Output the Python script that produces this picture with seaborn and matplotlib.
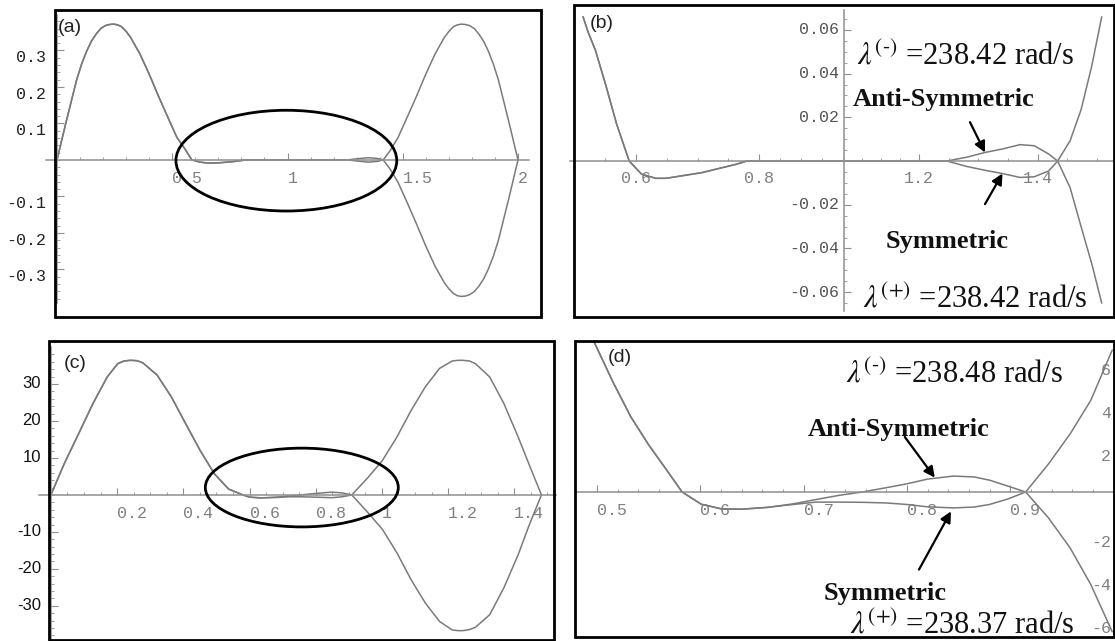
import numpy as np
import pandas as pd
import matplotlib
matplotlib.use("Agg")
import matplotlib.pyplot as plt
import seaborn as sns
from matplotlib.patches import Rectangle, Ellipse
from matplotlib.ticker import FixedLocator, FixedFormatter

# ---------------- data ----------------
# panel (a)
XA = [0, 0.04, 0.085, 0.107, 0.13, 0.15, 0.17, 0.19, 0.21, 0.228,
      0.246, 0.263, 0.28, 0.30, 0.32, 0.36, 0.40, 0.44, 0.48, 0.52,
      0.555, 0.585, 0.62, 0.66, 0.70, 0.76, 0.82, 1.0, 1.26, 1.30,
      1.35, 1.39, 1.415, 1.445, 1.48, 1.52, 1.56, 1.60, 1.64, 1.68,
      1.70, 1.72, 1.737, 1.754, 1.772, 1.79, 1.81, 1.83, 1.85, 1.87,
      1.893, 1.915, 1.96, 2.0]
YA_SYM = [0, 0.105, 0.219, 0.263, 0.30, 0.326, 0.345, 0.36, 0.368, 0.371,
          0.372, 0.370, 0.365, 0.352, 0.335, 0.29, 0.235, 0.175, 0.118, 0.062,
          0.03, 0.0, -0.006, -0.009, -0.008, -0.005, 0.0, 0.0, 0.0, -0.003,
          -0.006, -0.004, 0.0, 0.025, 0.062, 0.118, 0.175, 0.235, 0.29, 0.335,
          0.352, 0.365, 0.370, 0.372, 0.371, 0.368, 0.36, 0.345, 0.326, 0.30,
          0.263, 0.219, 0.105, 0.0]
YA_ANTI = [0, 0.105, 0.219, 0.263, 0.30, 0.326, 0.345, 0.36, 0.368, 0.371,
           0.372, 0.370, 0.365, 0.352, 0.335, 0.29, 0.235, 0.175, 0.118, 0.062,
           0.03, 0.0, -0.006, -0.009, -0.008, -0.005, 0.0, 0.0, 0.0, 0.003,
           0.006, 0.004, 0.0, -0.025, -0.062, -0.118, -0.176, -0.236, -0.291, -0.336,
           -0.353, -0.366, -0.372, -0.374, -0.373, -0.369, -0.361, -0.346, -0.327, -0.301,
           -0.264, -0.22, -0.106, 0.0]

# panel (b)
XB = [0.514, 0.522, 0.534, 0.551, 0.5685, 0.589, 0.609, 0.632, 0.649, 0.707,
      0.764, 0.78, 1.0, 1.247, 1.281, 1.311, 1.3405, 1.3705, 1.3945, 1.419,
      1.434, 1.455, 1.4735, 1.4915, 1.5083]
YB_SYM = [0.066, 0.0591, 0.0507, 0.0346, 0.0169, 0.0, -0.006, -0.0079, -0.0079, -0.0053,
          -0.0014, 0.0, 0.0, 0.0, -0.0025, -0.0042, -0.0057, -0.0075, -0.0072, -0.0045,
          0.0, 0.0093, 0.0235, 0.0435, 0.066]
YB_ANTI = [0.066, 0.0591, 0.0507, 0.0346, 0.0169, 0.0, -0.006, -0.0079, -0.0079, -0.0053,
           -0.0014, 0.0, 0.0, 0.0, 0.0018, 0.0039, 0.0055, 0.0075, 0.007, 0.0032,
           0.0, -0.0122, -0.030, -0.047, -0.065]

# panel (c)
XC = [0, 0.04, 0.0835, 0.127, 0.17, 0.202, 0.22, 0.24, 0.26, 0.278,
      0.321, 0.364, 0.4075, 0.451, 0.494, 0.537, 0.58, 0.60, 0.635, 0.68,
      0.72, 0.755, 0.80, 0.848, 0.88, 0.909, 0.958, 1.0015, 1.045, 1.088,
      1.131, 1.174, 1.212, 1.23, 1.245, 1.265, 1.2825, 1.3257, 1.3686, 1.412,
      1.444, 1.482]
YC_SYM = [0, 8.4, 16.5, 24.7, 31.9, 35.5, 36.2, 36.4, 36.3, 35.7,
          32.4, 26.5, 19.2, 12.0, 5.7, 1.57, 0.0, -0.6, -0.8, -0.7,
          -0.5, -0.5, -0.6, -0.75, -0.5, 0.0, 4.7, 9.3, 15.6, 22.8,
          29.2, 34.2, 36.2, 36.4, 36.4, 36.2, 35.5, 31.9, 24.7, 15.6,
          8.4, 0.0]
YC_ANTI = [0, 8.4, 16.5, 24.7, 31.9, 35.5, 36.2, 36.4, 36.3, 35.7,
           32.4, 26.5, 19.2, 12.0, 5.7, 1.57, 0.0, -0.6, -0.8, -0.6,
           -0.3, 0.0, 0.4, 0.75, 0.55, 0.0, -4.8, -9.3, -15.6, -22.9,
           -29.2, -34.2, -36.5, -36.7, -36.7, -36.4, -35.8, -32.4, -25.1, -16.1,
           -8.4, 0.0]

# panel (d)
XD = [0.496, 0.5156, 0.5327, 0.5499, 0.567, 0.5824, 0.601, 0.62, 0.64, 0.665,
      0.69, 0.712, 0.735, 0.757, 0.78, 0.80, 0.82, 0.845, 0.865, 0.88,
      0.898, 0.915, 0.937, 0.958, 0.978, 0.9988]
YD_SYM = [7.1, 5.1, 3.5, 2.2, 1.05, 0.0, -0.57, -0.78, -0.8, -0.71,
          -0.58, -0.47, -0.47, -0.48, -0.51, -0.58, -0.69, -0.74, -0.7, -0.58,
          -0.32, 0.0, 1.3, 2.7, 4.26, 6.6]
YD_ANTI = [7.1, 5.1, 3.5, 2.2, 1.05, 0.0, -0.57, -0.78, -0.8, -0.72,
           -0.55, -0.35, -0.15, 0.0, 0.2, 0.38, 0.6, 0.74, 0.7, 0.55,
           0.27, 0.0, -1.2, -2.6, -4.3, -6.5]

# highlighted regions (cx, cy, width, height)
ELLIPSE_A = [0.995, -0.002, 0.958, 0.276]
ELLIPSE_C = [0.758, 2.0, 0.583, 21.3]

# tick values / labels
A_XT = [0.5, 1, 1.5, 2];            A_XL = ["0.5", "1", "1.5", "2"]
A_YT = [-0.3, -0.2, -0.1, 0.1, 0.2, 0.3]; A_YL = ["-0.3", "-0.2", "-0.1", "0.1", "0.2", "0.3"]
B_XT = [0.6, 0.8, 1.2, 1.4];        B_XL = ["0.6", "0.8", "1.2", "1.4"]
B_YT = [-0.06, -0.04, -0.02, 0.02, 0.04, 0.06]; B_YL = ["-0.06", "-0.04", "-0.02", "0.02", "0.04", "0.06"]
C_XT = [0.2, 0.4, 0.6, 0.8, 1.0, 1.2, 1.4]; C_XL = ["0.2", "0.4", "0.6", "0.8", "1", "1.2", "1.4"]
C_YT = [-30, -20, -10, 10, 20, 30];  C_YL = ["-30", "-20", "-10", "10", "20", "30"]
D_XT = [0.5, 0.6, 0.7, 0.8, 0.9];    D_XL = ["0.5", "0.6", "0.7", "0.8", "0.9"]
D_YT = [-6, -4, -2, 2, 4, 6];        D_YL = ["-6", "-4", "-2", "2", "4", "6"]

LAM_B = ["238.42", "238.42"]   # lambda(-), lambda(+)
LAM_D = ["238.48", "238.37"]

# x-axis warp of panel (b) (its axis is compressed in the middle)
B_KNOT_X = [0.0, 0.4927, 0.6, 0.8, 1.0, 1.2, 1.4, 1.529, 2.0]
B_KNOT_P = [267.0, 570.0, 636.0, 759.0, 843.6, 919.0, 1037.5, 1114.0, 1393.0]

# ---------------- styling ----------------
sns.set_theme(style="white")
plt.rcParams["font.family"] = ["DejaVu Sans"]
plt.rcParams["mathtext.fontset"] = "stix"
plt.rcParams["axes.unicode_minus"] = False

CURVE = "#7a7a7a"
AXC = "#8f8f8f"
MONO = "Liberation Mono"
SERIF = "Liberation Serif"
SANS = "Liberation Sans"

W, H = 1115, 641
fig = plt.figure(figsize=(W / 100, H / 100), dpi=100)
fig.patch.set_facecolor("white")


def add_ax(l, t, r, b):
    return fig.add_axes([l / W, 1 - b / H, (r - l) / W, (b - t) / H])


def frame(l, t, r, b):
    fig.patches.append(Rectangle((l / W, 1 - b / H), (r - l) / W, (b - t) / H,
                                 transform=fig.transFigure, fill=False,
                                 lw=2.0, ec="black", zorder=5))


def curves(ax, x, ys, ya):
    df = pd.DataFrame({"x": list(x) * 2, "y": list(ys) + list(ya),
                       "mode": ["sym"] * len(x) + ["anti"] * len(x)})
    sns.lineplot(data=df, x="x", y="y", units="mode", estimator=None, sort=False,
                 color=CURVE, lw=1.1, ax=ax, legend=False)


def axes_style(ax, xlim, ylim, yaxis_pos, xt, xl, yt, yl, xminor, yminor,
               xpad=7, ypad=7, ylab_family=MONO, xha="left", yva="center",
               xcolor="#808080", ycolor="#333333", fs=12):
    ax.set_xlim(xlim)
    ax.set_ylim(ylim)
    ax.set_facecolor("none")
    ax.grid(False)
    ax.set_xlabel("")
    ax.set_ylabel("")
    ax.spines["top"].set_visible(False)
    ax.spines["right"].set_visible(False)
    ax.spines["bottom"].set_position(("data", 0))
    ax.spines["left"].set_position(yaxis_pos)
    for s in ("bottom", "left"):
        ax.spines[s].set_color(AXC)
        ax.spines[s].set_linewidth(1.1)
    ax.xaxis.set_major_locator(FixedLocator(xt))
    ax.xaxis.set_major_formatter(FixedFormatter(xl))
    ax.yaxis.set_major_locator(FixedLocator(yt))
    ax.yaxis.set_major_formatter(FixedFormatter(yl))
    ax.xaxis.set_minor_locator(FixedLocator(xminor))
    ax.yaxis.set_minor_locator(FixedLocator(yminor))
    ax.tick_params(which="both", direction="in", color=AXC, bottom=True, left=True,
                   top=False, right=False)
    ax.tick_params(which="major", length=5, width=0.8)
    ax.tick_params(which="minor", length=2.5, width=0.6)
    ax.tick_params(axis="x", pad=xpad, labelsize=fs, labelcolor=xcolor)
    ax.tick_params(axis="y", pad=ypad, labelsize=fs, labelcolor=ycolor)
    for lb in ax.get_xticklabels():
        lb.set_fontfamily(MONO)
        lb.set_ha(xha)
    for lb in ax.get_yticklabels():
        lb.set_fontfamily(ylab_family)
        lb.set_va(yva)


def arrow(ax, head, tail):
    ax.annotate("", xy=head, xytext=tail,
                arrowprops=dict(arrowstyle="-|>", color="black", lw=1.6,
                                mutation_scale=16, shrinkA=0, shrinkB=0))


LAMM = r"$\lambda^{(\text{-})}$"
LAMP = r"$\lambda^{(+)}$"

# ---------------- panel (a) ----------------
axA = add_ax(46, 15, 529, 303)
curves(axA, XA, YA_SYM, YA_ANTI)
axA.add_patch(Ellipse((ELLIPSE_A[0], ELLIPSE_A[1]), ELLIPSE_A[2], ELLIPSE_A[3],
                      fill=False, ec="black", lw=2.0, zorder=4))
axes_style(axA, (-0.0477, 2.0477), (-0.392, 0.397), ("data", 0),
           A_XT, A_XL, A_YT, A_YL,
           np.round(np.arange(0.1, 2.05, 0.1), 3), np.round(np.arange(-0.38, 0.39, 0.02), 3),
           xpad=8, ypad=8, yva="top", ycolor="#222222")
frame(55, 10, 541, 317)
fig.text(58 / W, 1 - 27 / H, "(a)", fontsize=14, family=SANS, va="center", ha="left", color="#222222")

# ---------------- panel (b) ----------------
axB = add_ax(570, 10, 1114, 311)
curves(axB, XB, YB_SYM, YB_ANTI)


def _fwd(x):
    return np.interp(x, B_KNOT_X, B_KNOT_P)


def _inv(p):
    return np.interp(p, B_KNOT_P, B_KNOT_X)


axB.set_xscale("function", functions=(_fwd, _inv))
axes_style(axB, (0.4927, 1.529), (-0.0686, 0.0691), ("data", 1.0),
           B_XT, B_XL, B_YT, B_YL,
           np.round(np.arange(0.5, 1.55, 0.05), 3), np.round(np.arange(-0.065, 0.066, 0.005), 4),
           xpad=7, ypad=3, xha="center", xcolor="#808080", ycolor="#555555")
axB.text(1.0355, 0.0476, LAMM + " =" + LAM_B[0] + " rad/s", fontsize=22, family=SERIF,
         ha="left", va="center", color="#111111")
axB.text(1.0249, 0.0281, "Anti-Symmetric", fontsize=19, family=SERIF, weight="bold",
         ha="left", va="center", color="#111111")
arrow(axB, (1.3114, 0.0039), (1.286, 0.0178))
arrow(axB, (1.3409, -0.0057), (1.3114, -0.0197))
axB.text(1.1125, -0.0366, "Symmetric", fontsize=19, family=SERIF, weight="bold",
         ha="left", va="center", color="#111111")
axB.text(1.0512, -0.0632, LAMP + " =" + LAM_B[1] + " rad/s", fontsize=22, family=SERIF,
         ha="left", va="center", color="#111111")
frame(574, 5, 1114, 317)
fig.text(590 / W, 1 - 23 / H, "(b)", fontsize=14, family=SANS, va="center", ha="left", color="#222222")

# ---------------- panel (c) ----------------
axC = add_ax(39, 347, 556, 641)
curves(axC, XC, YC_SYM, YC_ANTI)
axC.add_patch(Ellipse((ELLIPSE_C[0], ELLIPSE_C[1]), ELLIPSE_C[2], ELLIPSE_C[3],
                      fill=False, ec="black", lw=2.0, zorder=4))
axes_style(axC, (-0.036, 1.526), (-39.5, 40.0), ("data", 0),
           C_XT, C_XL, C_YT, C_YL,
           np.round(np.arange(0.05, 1.55, 0.05), 3), np.arange(-38, 40, 2),
           xpad=8, ypad=7, ylab_family=SANS, ycolor="#111111")
frame(49, 341, 554, 640)
fig.text(64 / W, 1 - 363 / H, "(c)", fontsize=14, family=SANS, va="center", ha="left", color="#222222")

# ---------------- panel (d) ----------------
axD = add_ax(575, 341, 1114, 637)
curves(axD, XD, YD_SYM, YD_ANTI)
axes_style(axD, (0.4787, 1.0005), (-6.744, 7.023), ("axes", 1.0),
           D_XT, D_XL, D_YT, D_YL,
           np.round(np.arange(0.48, 1.0, 0.02), 3), np.arange(-6.5, 7.0, 0.5),
           xpad=8, ypad=2, yva="top", xcolor="#808080", ycolor="#808080")
axD.text(0.741, 5.44, LAMM + " =" + LAM_D[0] + " rad/s", fontsize=22, family=SERIF,
         ha="left", va="center", color="#111111")
axD.text(0.7043, 2.93, "Anti-Symmetric", fontsize=19, family=SERIF, weight="bold",
         ha="left", va="center", color="#111111")
arrow(axD, (0.827, 0.67), (0.798, 2.56))
arrow(axD, (0.8427, -0.9), (0.8117, -3.61))
axD.text(0.7197, -4.70, "Symmetric", fontsize=19, family=SERIF, weight="bold",
         ha="left", va="center", color="#111111")
axD.text(0.745, -6.2, LAMP + " =" + LAM_D[1] + " rad/s", fontsize=22, family=SERIF,
         ha="left", va="center", color="#111111")
frame(575, 341, 1114, 637)
fig.text(608 / W, 1 - 358 / H, "(d)", fontsize=14, family=SANS, va="center", ha="left", color="#222222")

fig.savefig("out.png", dpi=100, facecolor="white")
